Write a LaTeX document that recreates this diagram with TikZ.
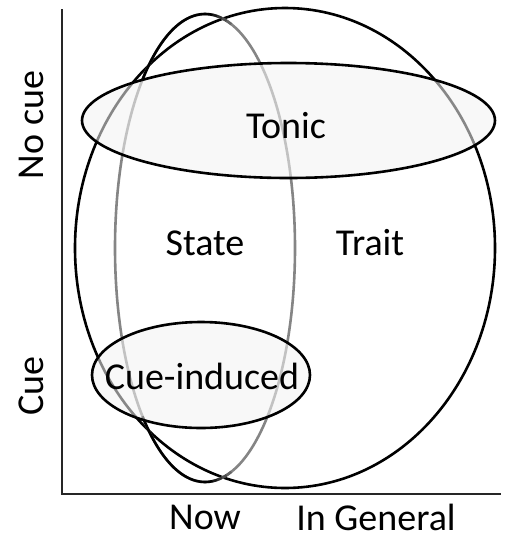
\documentclass[tikz,border=0pt]{standalone}
\usepackage{fontspec}
\setmainfont{Carlito}
\begin{document}
\begin{tikzpicture}[x=1pt,y=-1pt,
  lbl/.style={font=\fontsize{38}{40}\selectfont, inner sep=0pt},
  edge/.style={line width=2.6pt, draw=black},
  softfill/.style={fill=black!5, fill opacity=0.56}]
\useasboundingbox (0,0) rectangle (508,539);
% axes
\draw[line width=2.6pt, black!85] (62,9) -- (62,494) -- (501,494);
% Trait ellipse
\draw[edge] (285,248) ellipse [x radius=210, y radius=240];
% State ellipse (gray with dark top/bottom-left arcs)
\draw[line width=2.6pt, draw=black!48] (205,248) ellipse [x radius=90, y radius=234];
\draw[edge] plot[domain=85:134,samples=40] ({205+90*cos(\x)},{248-234*sin(\x)});
\draw[edge] plot[domain=226:275,samples=40] ({205+90*cos(\x)},{248-234*sin(\x)});
\foreach \a/\c in {85/10,82/20,79/30,76/40} {
  \draw[line width=2.6pt, draw=black!\the\numexpr100-\c\relax] plot[domain=\a-3:\a,samples=5] ({205+90*cos(\x)},{248-234*sin(\x)});
}
\foreach \a/\c in {275/10,278/20,281/30,284/40} {
  \draw[line width=2.6pt, draw=black!\the\numexpr100-\c\relax] plot[domain=\a:\a+3,samples=5] ({205+90*cos(\x)},{248-234*sin(\x)});
}
% Tonic ellipse
\path[softfill] (288.5,120.5) ellipse [x radius=206.5, y radius=57.5];
\draw[edge] (288.5,120.5) ellipse [x radius=206.5, y radius=57.5];
% Cue-induced ellipse
\path[softfill] (201,375) ellipse [x radius=109, y radius=53];
\draw[edge] (201,375) ellipse [x radius=109, y radius=53];
% labels
\node[lbl] (tonic) at (286,126) {Tonic};
\node[lbl] (state) at (205,243) {State};
\node[lbl] (trait) at (370,243) {Trait};
\node[lbl] (cue) at (202,376) {Cue-induced};
\node[lbl, rotate=90] (nocue) at (31,125) {No cue};
\node[lbl, rotate=90] (cuey) at (31,386) {Cue};
\node[lbl] (now) at (205,517) {Now};
\node[lbl] (general) at (376,517) {In General};
\end{tikzpicture}
\end{document}
